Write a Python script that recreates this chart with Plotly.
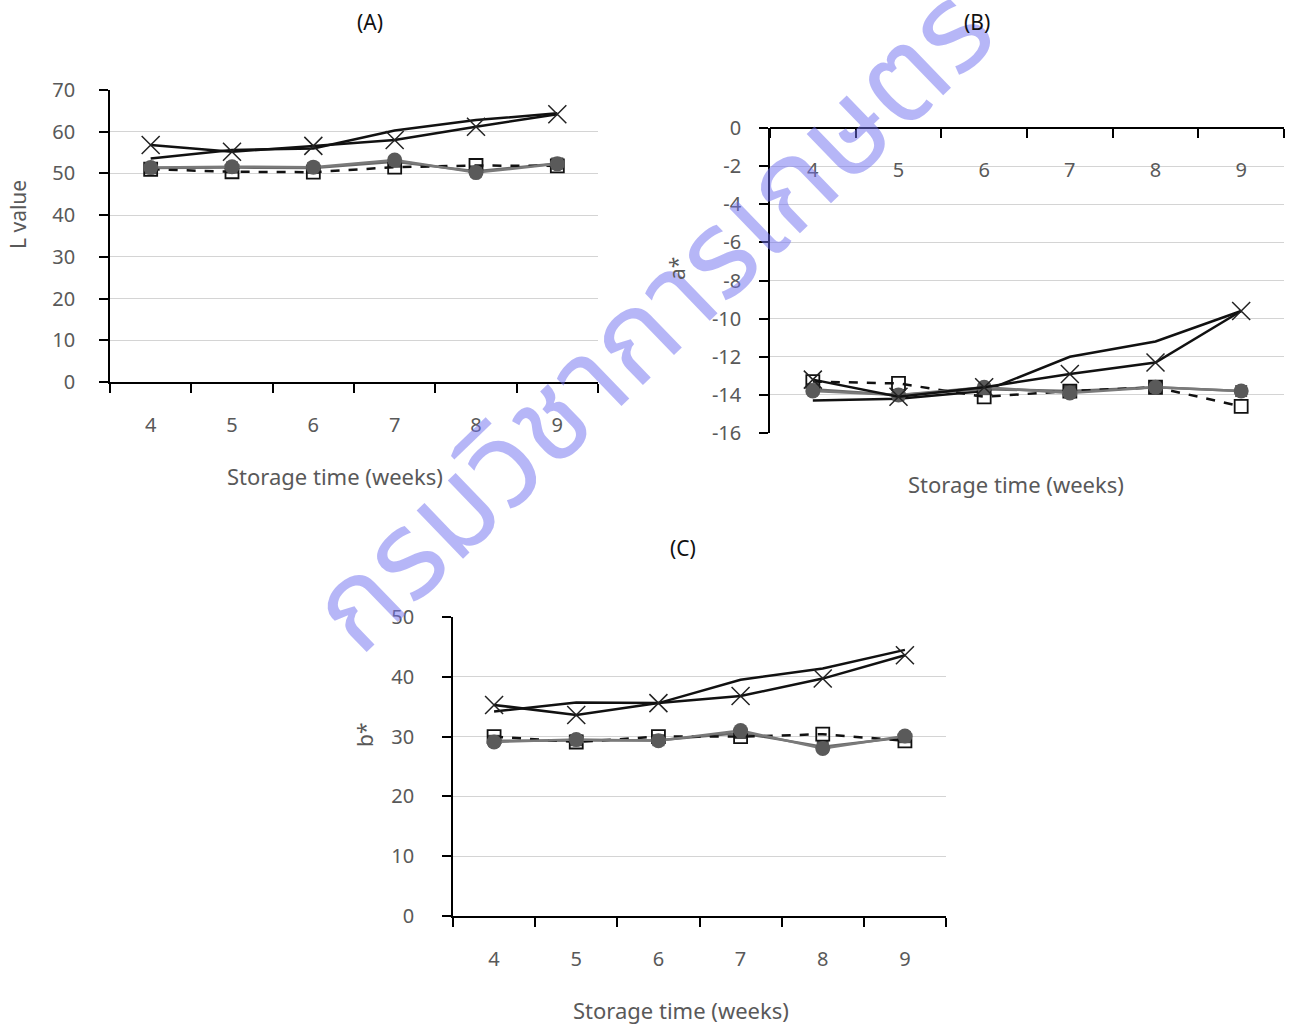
import plotly.graph_objects as go

W, H = 1293, 1024

weeks = [4, 5, 6, 7, 8, 9]
week_labels = ["4", "5", "6", "7", "8", "9"]

# (A) L value
L_cross = [56.8, 55.2, 56.6, 58.0, 61.2, 64.2]
L_plain = [53.6, 55.6, 56.0, 60.3, 62.8, 64.4]
L_circle = [51.4, 51.6, 51.5, 53.2, 50.2, 52.3]
L_fsquare = [51.3, 51.4, 51.3, 52.8, 50.5, 52.4]
L_osquare = [51.0, 50.4, 50.3, 51.5, 51.9, 51.8]

# (B) a*
a_cross = [-13.2, -14.1, -13.6, -12.9, -12.3, -9.6]
a_plain = [-14.3, -14.2, -13.8, -12.0, -11.2, -9.6]
a_circle = [-13.8, -14.0, -13.6, -13.9, -13.6, -13.8]
a_fsquare = [-13.7, -14.0, -13.7, -13.8, -13.6, -13.8]
a_osquare = [-13.3, -13.4, -14.1, -13.8, -13.6, -14.6]

# (C) b*
b_cross = [35.3, 33.6, 35.6, 36.8, 39.7, 43.6]
b_plain = [34.2, 35.7, 35.6, 39.5, 41.4, 44.5]
b_circle = [29.1, 29.5, 29.3, 31.0, 28.0, 30.1]
b_fsquare = [29.3, 29.4, 29.4, 30.6, 28.3, 29.9]
b_osquare = [30.0, 29.1, 30.0, 30.0, 30.4, 29.3]

# y tick values/labels (hyphen minus as printed)
L_ticks = [0, 10, 20, 30, 40, 50, 60, 70]
a_ticks = [0, -2, -4, -6, -8, -10, -12, -14, -16]
b_ticks = [0, 10, 20, 30, 40, 50]

x_title = "Storage time (weeks)"
FONT = "Noto Sans"
GRAY_TXT = "#595959"


def px_x(p):
    return p / W


def px_y(p):
    return 1 - p / H


fig = go.Figure()


def add_panel(xa, ya, cross, plain, circle, fsquare, osquare):
    kw = dict(x=weeks, xaxis=xa, yaxis=ya, showlegend=False)
    fig.add_trace(go.Scatter(y=plain, mode="lines",
                             line=dict(color="#111111", width=2.5), **kw))
    fig.add_trace(go.Scatter(y=fsquare, mode="lines+markers",
                             line=dict(color="#6a6a6a", width=2.5),
                             marker=dict(symbol="square", size=12, color="#505050"), **kw))
    fig.add_trace(go.Scatter(y=osquare, mode="lines+markers",
                             line=dict(color="#111111", width=2.5, dash="dash"),
                             marker=dict(symbol="square-open", size=13, color="#111111",
                                         line=dict(width=1.8)), **kw))
    fig.add_trace(go.Scatter(y=circle, mode="lines+markers",
                             line=dict(color="#7a7a7a", width=2.5),
                             marker=dict(symbol="circle", size=15, color="#5a5a5a"), **kw))
    fig.add_trace(go.Scatter(y=cross, mode="lines+markers",
                             line=dict(color="#111111", width=2.5),
                             marker=dict(symbol="x-thin-open", size=18, color="#222222",
                                         line=dict(width=1.5, color="#222222")), **kw))


add_panel("x", "y", L_cross, L_plain, L_circle, L_fsquare, L_osquare)
add_panel("x2", "y2", a_cross, a_plain, a_circle, a_fsquare, a_osquare)
add_panel("x3", "y3", b_cross, b_plain, b_circle, b_fsquare, b_osquare)

boundaries = [3.5, 4.5, 5.5, 6.5, 7.5, 8.5, 9.5]


def xaxis(x0, x1, y_anchor, standoff, position=None):
    d = dict(domain=[px_x(x0), px_x(x1)], anchor=y_anchor, range=[3.5, 9.5],
             tickmode="array", tickvals=weeks, ticktext=week_labels, ticks="",
             showgrid=False, zeroline=False, showline=True, linecolor="#000000",
             linewidth=1.5, side="bottom", automargin=False,
             tickfont=dict(family=FONT, size=20, color=GRAY_TXT),
             ticklabelstandoff=standoff,
             minor=dict(tickmode="array", tickvals=boundaries, ticks="outside",
                        ticklen=9, tickwidth=1.5, tickcolor="#000000", showgrid=False))
    if position is not None:
        d["anchor"] = "free"
        d["position"] = position
    return d


def yaxis(y0, y1, x_anchor, rng, ticks, standoff):
    return dict(domain=[px_y(y1), px_y(y0)], anchor=x_anchor, range=rng,
                tickmode="array", tickvals=ticks, ticktext=[str(t) for t in ticks],
                showgrid=True, gridcolor="#d4d4d4", gridwidth=1.3, zeroline=False,
                showline=True, linecolor="#000000", linewidth=1.5, automargin=False,
                ticks="outside", ticklen=9, tickwidth=1.5, tickcolor="#000000",
                tickfont=dict(family=FONT, size=20, color=GRAY_TXT),
                ticklabelstandoff=standoff)


annotations = []


def text(x, y, s, size=21, color=GRAY_TXT, angle=0):
    annotations.append(dict(xref="paper", yref="paper", x=px_x(x), y=px_y(y), text=s,
                            showarrow=False, textangle=angle, xanchor="center", yanchor="middle",
                            font=dict(family=FONT, size=size, color=color)))


# Agency watermark across the page (added first so the labels sit above it)
annotations.append(dict(xref="paper", yref="paper", x=px_x(655), y=px_y(322),
                        text="กรมวิชาการเกษตร", showarrow=False, textangle=-44,
                        xanchor="center", yanchor="middle", opacity=0.5,
                        font=dict(family="Noto Sans Thai, " + FONT, size=122, weight="normal",
                                  color="#7070f0")))

text(370, 22, "(A)", size=21, color="#111111")
text(977, 22, "(B)", size=21, color="#111111")
text(683, 548, "(C)", size=21, color="#111111")
text(335, 476, x_title, size=22)
text(1016, 484, x_title, size=22)
text(681, 1010, x_title, size=22)
text(18, 215, "L value", angle=-90)
text(677, 268, "a*", angle=-90)
text(365, 735, "b*", angle=-90)

fig.update_layout(
    width=W, height=H, margin=dict(l=0, r=0, t=0, b=0, autoexpand=False),
    paper_bgcolor="white", plot_bgcolor="white",
    xaxis=xaxis(110, 598, "y", standoff=24),
    yaxis=yaxis(90, 382, "x", [0, 70], L_ticks, 20),
    xaxis2=xaxis(770, 1284, "y2", standoff=24, position=px_y(128)),
    yaxis2=yaxis(128, 433, "x2", [-16, 0], a_ticks, 14),
    xaxis3=xaxis(453, 946, "y3", standoff=24),
    yaxis3=yaxis(617, 916, "x3", [0, 50], b_ticks, 24),
    annotations=annotations,
)

fig.write_html("out.html")
